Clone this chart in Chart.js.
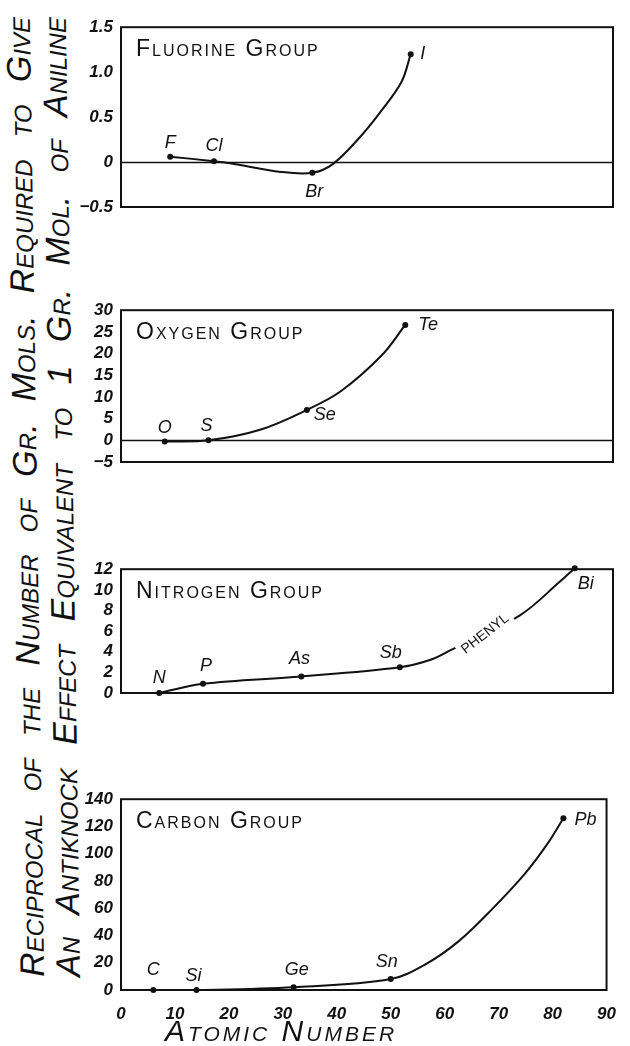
<!DOCTYPE html>
<html>
<head>
<meta charset="utf-8">
<script src="https://cdn.jsdelivr.net/npm/chart.js@4.4.1/dist/chart.umd.min.js"></script>
<style>
  html, body { margin: 0; padding: 0; background: #fff; }
  body { position: relative; width: 630px; height: 1046px; overflow: hidden; font-family: "Liberation Sans", Arial, sans-serif; color: #111; }
  canvas { position: absolute; left: 0; }
  .ytitle {
    position: absolute; width: 960px; height: 40px; line-height: 40px;
    font-size: 34px; font-style: italic; font-variant: small-caps;
    text-align: justify; text-align-last: justify;
    transform: rotate(-90.85deg);
  }
  .xtitle {
    position: absolute; left: 121px; top: 1016px; width: 320px;
    font-size: 30px; line-height: 30px; font-style: italic; font-variant: small-caps;
    text-align: center; letter-spacing: 3px;
  }
</style>
</head>
<body>
<div class="ytitle" style="left:-455px; top:477px;">Reciprocal of the Number of Gr. Mols. Required to Give</div>
<div class="ytitle" style="left:-419px; top:477px;">An Antiknock Effect Equivalent to 1 Gr. Mol. of Aniline</div>

<canvas id="fluorine" width="630" height="250" style="top:9px"></canvas>
<canvas id="oxygen" width="630" height="222" style="top:292px"></canvas>
<canvas id="nitrogen" width="630" height="194" style="top:551px"></canvas>
<canvas id="carbon" width="630" height="249" style="top:781px"></canvas>

<div class="xtitle">Atomic Number</div>

<script>
// Element points (atomic number -> reciprocal value)
const fluorineSymbols = ["F", "Cl", "Br", "I"];
const fluorineZ = [9, 17, 35, 53];
const fluorineValues = [0.06, 0.01, -0.12, 1.2];
// points
const fluorineCurveZ = [9, 17, 19.7, 29.3, 35, 38.8, 43.9, 47.5, 51.3, 53];
const fluorineCurveValues = [0.06, 0.01, -0.01, -0.11, -0.12, -0.02, 0.29, 0.56, 0.89, 1.2];
const fluorineTicks = [-0.5, 0, 0.5, 1.0, 1.5];

const oxygenSymbols = ["O", "S", "Se", "Te"];
const oxygenZ = [8, 16, 34, 52];
const oxygenValues = [-0.3, 0, 7, 26.6];
const oxygenCurveZ = [8, 16, 25.6, 34, 40.2, 47.7, 52];
const oxygenCurveValues = [-0.3, 0, 2.5, 7, 11.3, 19.6, 26.6];
const oxygenTicks = [-5, 0, 5, 10, 15, 20, 25, 30];

const nitrogenSymbols = ["N", "P", "As", "Sb", "Bi"];
const nitrogenZ = [7, 15, 33, 51, 83];
const nitrogenValues = [0, 0.9, 1.6, 2.5, 12.1];
const nitrogenCurveZ = [7, 15, 33, 51, 56.5, 60.1, 72.9, 80.3, 83];
const nitrogenCurveValues = [0, 0.9, 1.6, 2.5, 3.2, 4.1, 7.5, 10.8, 12.1];
const nitrogenTicks = [0, 2, 4, 6, 8, 10, 12];

const carbonSymbols = ["C", "Si", "Ge", "Sn", "Pb"];
const carbonZ = [6, 14, 32, 50, 82];
const carbonValues = [0, 0, 2, 8, 126];
const carbonCurveZ = [6, 14, 32, 50, 56.5, 62.5, 68.7, 74.8, 79, 82];
const carbonCurveValues = [0, 0, 2, 8, 19, 35.5, 59, 85, 107, 126];
const carbonTicks = [0, 20, 40, 60, 80, 100, 120, 140];

const atomicTicks = [0, 10, 20, 30, 40, 50, 60, 70, 80, 90];

const ink = "#111";
const family = "'Liberation Sans', Arial, sans-serif";

// Draws the box, the zero line, the group name and the element labels
const paper = {
  id: "paper",
  beforeDatasetsDraw(chart, args, opts) {
    const { ctx, chartArea: a } = chart;
    const y = chart.scales.y;
    ctx.save();
    ctx.strokeStyle = ink;
    ctx.lineWidth = 2;
    ctx.strokeRect(a.left, a.top, a.right - a.left, a.bottom - a.top);
    if (y.min < 0) {
      const y0 = Math.round(y.getPixelForValue(0)) + 0.5;
      ctx.lineWidth = 1.5;
      ctx.beginPath();
      ctx.moveTo(a.left, y0);
      ctx.lineTo(a.right, y0);
      ctx.stroke();
    }
    ctx.fillStyle = ink;
    ctx.font = "small-caps 23px " + family;
    ctx.letterSpacing = "2px";
    ctx.textAlign = "left";
    ctx.textBaseline = "alphabetic";
    ctx.fillText(opts.title, a.left + 15, a.top + 29);
    ctx.restore();
  },
  afterDatasetsDraw(chart, args, opts) {
    const { ctx } = chart;
    const meta = chart.getDatasetMeta(1);
    ctx.save();
    ctx.fillStyle = ink;
    ctx.font = "italic 18px " + family;
    ctx.textAlign = "center";
    ctx.textBaseline = "middle";
    opts.symbols.forEach((s, i) => {
      const p = meta.data[i];
      const [dx, dy] = opts.offsets[i];
      ctx.fillText(s, p.x + dx, p.y + dy);
    });
    // "PHENYL" written along the curve, breaking the line
    if (opts.note) {
      const n = opts.note;
      const px = chart.scales.x.getPixelForValue(n.x);
      const py = chart.scales.y.getPixelForValue(n.y);
      ctx.translate(px, py);
      ctx.rotate((n.angle * Math.PI) / 180);
      ctx.font = "14px " + family;
      const w = ctx.measureText(n.text).width + 8;
      ctx.fillStyle = "#fff";
      ctx.fillRect(-w / 2, -9, w, 18);
      ctx.fillStyle = ink;
      ctx.fillText(n.text, 0, 1);
    }
    ctx.restore();
  },
};

function tickFont() {
  return { family: family, size: 17, style: "italic", weight: "bold" };
}

function formatTick(v) {
  if (v === 0) return "0";
  const s = Number.isInteger(v) && Math.abs(v) >= 2 ? String(Math.abs(v)) : Math.abs(v).toFixed(1);
  return v < 0 ? "\u2212" + s : s;
}

function drawPanel(id, cfg) {
  return new Chart(document.getElementById(id), {
    type: "line",
    data: {
      datasets: [
        {
          // the drawn curve
          data: cfg.curveZ.map((z, i) => ({ x: z, y: cfg.curveValues[i] })),
          borderColor: ink,
          borderWidth: 2,
          pointRadius: 0,
          tension: 0.35,
          clip: false,
        },
        {
          // the element dots
          data: cfg.z.map((z, i) => ({ x: z, y: cfg.values[i] })),
          showLine: false,
          pointRadius: 3,
          pointBackgroundColor: ink,
          pointBorderWidth: 0,
          clip: false,
        },
      ],
    },
    options: {
      responsive: false,
      animation: false,
      events: [],
      layout: { padding: { top: 12, bottom: cfg.showX ? 0 : 12, left: 0, right: 17 } },
      plugins: {
        legend: { display: false },
        tooltip: { enabled: false },
        paper: { title: cfg.title, symbols: cfg.symbols, offsets: cfg.offsets, note: cfg.note },
      },
      scales: {
        x: {
          type: "linear",
          min: 0,
          max: 90,
          display: cfg.showX,
          afterBuildTicks: (s) => { s.ticks = atomicTicks.map((v) => ({ value: v })); },
          afterFit: (s) => { s.height = 40; },
          grid: { display: false, drawTicks: false },
          border: { display: false },
          ticks: { padding: 14, autoSkip: false, maxRotation: 0, color: ink, font: tickFont() },
        },
        y: {
          min: cfg.ticks[0],
          max: cfg.ticks[cfg.ticks.length - 1],
          afterBuildTicks: (s) => { s.ticks = cfg.ticks.map((v) => ({ value: v })); },
          afterFit: (s) => { s.width = 121; },
          grid: { display: false, drawTicks: false },
          border: { display: false },
          ticks: { padding: 8, autoSkip: false, color: ink, font: tickFont(), callback: (v) => formatTick(v) },
        },
      },
    },
    plugins: [paper],
  });
}

drawPanel("fluorine", {
  title: "Fluorine Group",
  symbols: fluorineSymbols, z: fluorineZ, values: fluorineValues, ticks: fluorineTicks,
  curveZ: fluorineCurveZ, curveValues: fluorineCurveValues,
  offsets: [[0, -14], [0, -15], [2, 19], [12, 0]],
  showX: false,
});

drawPanel("oxygen", {
  title: "Oxygen Group",
  symbols: oxygenSymbols, z: oxygenZ, values: oxygenValues, ticks: oxygenTicks,
  curveZ: oxygenCurveZ, curveValues: oxygenCurveValues,
  offsets: [[0, -14], [-2, -14], [18, 5], [23, 0]],
  showX: false,
});

drawPanel("nitrogen", {
  title: "Nitrogen Group",
  symbols: nitrogenSymbols, z: nitrogenZ, values: nitrogenValues, ticks: nitrogenTicks,
  curveZ: nitrogenCurveZ, curveValues: nitrogenCurveValues,
  offsets: [[0, -15], [3, -18], [-2, -17], [-9, -14], [11, 16]],
  note: { text: "PHENYL", x: 66.5, y: 5.8, angle: -38 },
  showX: false,
});

drawPanel("carbon", {
  title: "Carbon Group",
  symbols: carbonSymbols, z: carbonZ, values: carbonValues, ticks: carbonTicks,
  curveZ: carbonCurveZ, curveValues: carbonCurveValues,
  offsets: [[0, -20], [-3, -14], [3, -17], [-4, -17], [22, 2]],
  showX: true,
});
</script>
</body>
</html>
